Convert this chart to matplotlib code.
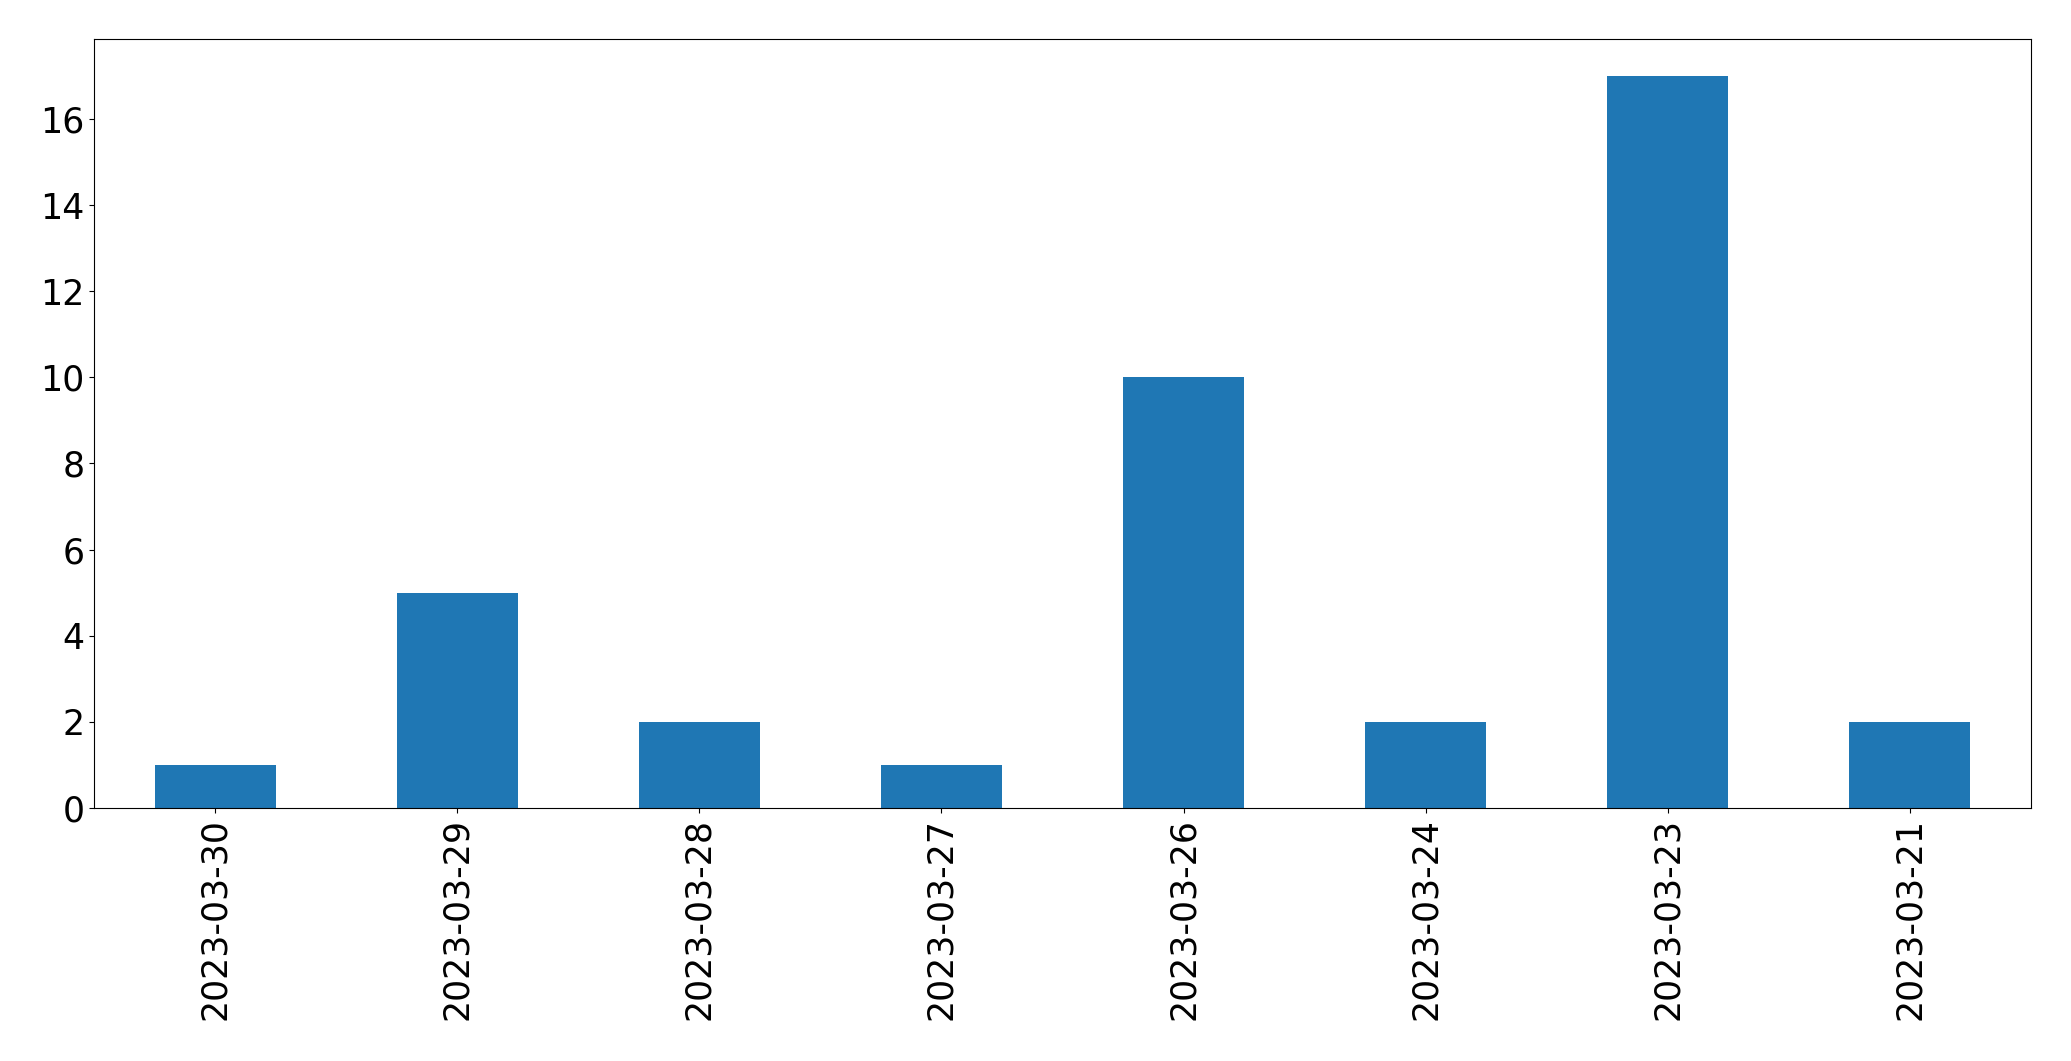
import matplotlib
matplotlib.use("Agg")
import matplotlib.pyplot as plt

dates = ["2023-03-30", "2023-03-29", "2023-03-28", "2023-03-27",
         "2023-03-26", "2023-03-24", "2023-03-23", "2023-03-21"]
counts = [1, 5, 2, 1, 10, 2, 17, 2]

fig = plt.figure(figsize=(20.71, 10.61), dpi=100)
ax = fig.add_axes([0.0454, 0.2385, 0.9353, 0.7245])
x = list(range(len(dates)))
ax.bar(x, counts, width=0.5, color="#1f77b4")
ax.set_xlim(-0.5, len(dates) - 0.5)
ax.set_xticks(x)
ax.set_xticklabels(dates, rotation=90)
ax.tick_params(labelsize=25)
fig.savefig("out.png", dpi=100)
